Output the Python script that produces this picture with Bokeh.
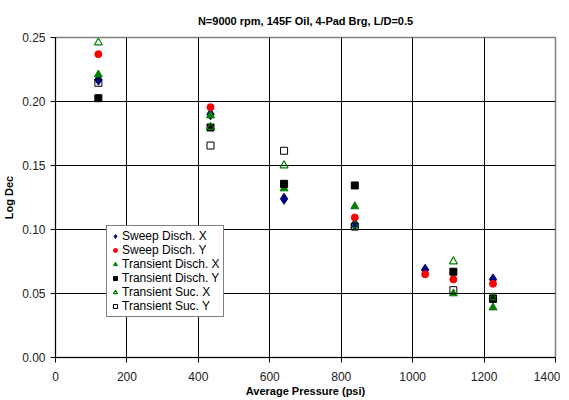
from bokeh.plotting import figure
from bokeh.models import Legend, LegendItem, Range1d, FixedTicker, Title, CustomJSTickFormatter
from bokeh.embed import file_html
from bokeh.resources import INLINE

# data
sweep_x_p = [120, 434, 640, 838, 1035, 1225]
sweep_x_v = [0.217, 0.190, 0.124, 0.104, 0.0685, 0.061]

sweep_y_p = [120, 434, 640, 838, 1035, 1114, 1225]
sweep_y_v = [0.237, 0.1956, 0.134, 0.1094, 0.065, 0.061, 0.0576]

tdx_p = [120, 434, 640, 838, 1114, 1225]
tdx_v = [0.221, 0.189, 0.132, 0.118, 0.050, 0.039]

tdy_p = [120, 434, 640, 838, 1114, 1225]
tdy_v = [0.2026, 0.1797, 0.1357, 0.1344, 0.067, 0.0459]

tsx_p = [120, 434, 640, 838, 1114, 1225]
tsx_v = [0.246, 0.180, 0.150, 0.103, 0.075, 0.047]

tsy_p = [120, 434, 640, 838, 1114, 1225]
tsy_v = [0.2146, 0.1656, 0.1615, 0.1023, 0.0526, 0.046]

x_ticks = [0, 200, 400, 600, 800, 1000, 1200, 1400]
y_ticks = [0.0, 0.05, 0.10, 0.15, 0.20, 0.25]

FONT = "Liberation Sans"

p = figure(frame_width=500, frame_height=320, output_backend="svg", toolbar_location=None,
           x_range=Range1d(0, 1400), y_range=Range1d(0, 0.25),
           min_border_left=48, min_border_right=5, min_border_top=37, min_border_bottom=20)

p.title = Title(text="N=9000 rpm, 145F Oil, 4-Pad Brg, L/D=0.5", align="center",
                text_font=FONT, text_font_size="11px", text_font_style="bold",
                text_color="black", offset=0)
p.title.standoff = 22

p.outline_line_color = "#808080"
p.outline_line_width = 1.5
p.background_fill_color = "white"
p.border_fill_color = "white"

for ax in (p.xaxis[0], p.yaxis[0]):
    ax.axis_line_color = "black"
    ax.major_tick_line_color = "black"
    ax.minor_tick_line_color = None
    ax.major_tick_out = 5
    ax.major_tick_in = 0
    ax.major_label_text_font = FONT
    ax.major_label_text_font_size = "12px"
    ax.major_label_text_color = "#222222"
    ax.axis_label_text_font = FONT
    ax.axis_label_text_font_size = "11px"
    ax.axis_label_text_font_style = "bold"
    ax.axis_label_text_color = "black"

p.xaxis.ticker = FixedTicker(ticks=x_ticks)
p.yaxis.ticker = FixedTicker(ticks=y_ticks)
p.yaxis.formatter = CustomJSTickFormatter(code="return tick.toFixed(2);")
p.xaxis.axis_label = "Average Pressure (psi)"
p.yaxis.axis_label = "Log Dec"
p.xaxis.major_label_standoff = 9
p.yaxis.major_label_standoff = 5
p.xaxis.axis_label_standoff = 1
p.yaxis.axis_label_standoff = 4

p.xgrid.grid_line_color = "black"
p.ygrid.grid_line_color = "black"
p.xgrid.grid_line_width = 1
p.ygrid.grid_line_width = 1
p.xgrid.ticker = FixedTicker(ticks=x_ticks)
p.ygrid.ticker = FixedTicker(ticks=y_ticks)

r1 = p.scatter(sweep_x_p, sweep_x_v, marker="diamond", size=11, fill_color="#000080", line_color="#000080")
r2 = p.scatter(sweep_y_p, sweep_y_v, marker="circle", size=7, fill_color="#FF0000", line_color="#FF0000")
r3 = p.scatter(tdx_p, tdx_v, marker="triangle", size=8, fill_color="#008000", line_color="#008000")
r4 = p.scatter(tdy_p, tdy_v, marker="square", size=7, fill_color="black", line_color="black")
r5 = p.scatter(tsx_p, tsx_v, marker="triangle", size=8, fill_color=None, line_color="#008000", line_width=1.2)
r6 = p.scatter(tsy_p, tsy_v, marker="square", size=7, fill_color=None, line_color="black", line_width=1)

legend = Legend(items=[
    LegendItem(label="Sweep Disch. X", renderers=[r1]),
    LegendItem(label="Sweep Disch. Y", renderers=[r2]),
    LegendItem(label="Transient Disch. X", renderers=[r3]),
    LegendItem(label="Transient Disch. Y", renderers=[r4]),
    LegendItem(label="Transient Suc. X", renderers=[r5]),
    LegendItem(label="Transient Suc. Y", renderers=[r6]),
], location=(51, 40))
legend.label_text_font = FONT
legend.label_text_font_size = "12px"
legend.label_text_color = "black"
legend.label_height = 14
legend.glyph_height = 14
legend.glyph_width = 10
legend.label_standoff = 2
legend.spacing = 0
legend.padding = 3
legend.margin = 0
legend.border_line_color = "black"
legend.border_line_width = 1
legend.background_fill_alpha = 1
p.add_layout(legend)

open("out.html", "w").write(file_html(p, INLINE))
